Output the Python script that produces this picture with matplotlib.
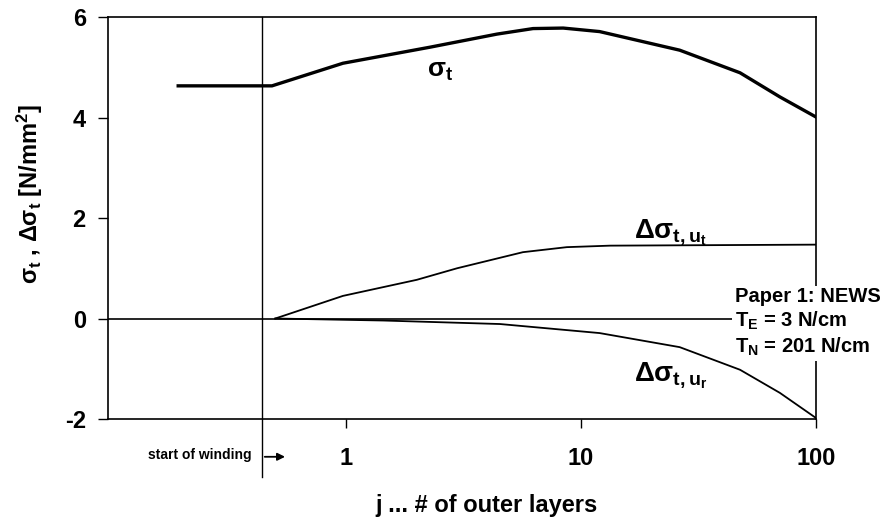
import numpy as np
import matplotlib
matplotlib.use("Agg")
import matplotlib.pyplot as plt
import matplotlib.transforms as mtransforms

plt.rcParams["font.family"] = ["Liberation Sans", "DejaVu Sans"]
plt.rcParams["font.weight"] = "bold"
plt.rcParams["axes.unicode_minus"] = False
plt.rcParams["mathtext.fontset"] = "custom"
plt.rcParams["mathtext.rm"] = "Liberation Sans:bold"
plt.rcParams["mathtext.it"] = "Liberation Sans:bold"
plt.rcParams["mathtext.bf"] = "Liberation Sans:bold"

# sigma_t (tangential stress) vs outer layers j
sig_x = [0.193, 0.484, 0.97, 2.28, 4.39, 6.25, 8.4, 12.0, 26.3, 47.5, 70.2, 100]
sig_y = [4.63, 4.63, 5.08, 5.40, 5.66, 5.77, 5.78, 5.71, 5.34, 4.89, 4.41, 4.01]
# delta sigma_t due to u_t
ut_x = [0.50, 0.97, 2.0, 2.97, 5.66, 8.7, 13.3, 100]
ut_y = [0.0, 0.45, 0.77, 1.0, 1.32, 1.42, 1.45, 1.47]
# delta sigma_t due to u_r
ur_x = [0.50, 1.44, 4.52, 12.0, 26.3, 47.5, 70.2, 100]
ur_y = [0.0, -0.04, -0.11, -0.29, -0.57, -1.02, -1.48, -1.98]

start_x = 0.44
x_ticks = [1, 10, 100]
y_ticks = [-2, 0, 2, 4, 6]

fig = plt.figure(figsize=(8.88, 5.25), dpi=100)
ax = fig.add_axes([0.1216, 0.2019, 0.7973, 0.7657])
ax.set_xscale("log")
ax.set_xlim(0.097, 100)
ax.set_ylim(-2, 6)

ax.axhline(0, color="black", lw=1.2, zorder=2)
ax.plot(sig_x, sig_y, color="black", lw=2.4, zorder=3)
ax.plot(ut_x, ut_y, color="black", lw=1.3, zorder=3)
ax.plot(ur_x, ur_y, color="black", lw=1.3, zorder=3)

# start of winding marker
trans = mtransforms.blended_transform_factory(ax.transData, ax.transAxes)
ax.plot([start_x, start_x], [-0.144, 1.0], color="black", lw=1.0, transform=trans, clip_on=False)
ax.annotate("", xy=(0.254, -0.094), xytext=(0.2175, -0.094), xycoords="axes fraction",
            arrowprops=dict(arrowstyle="-|>", color="black", lw=1.3, mutation_scale=11))
ax.text(0.203, -0.09, "start of winding", transform=ax.transAxes, ha="right", va="center",
        fontsize=10, fontweight="bold")

ax.set_xticks(x_ticks)
ax.set_xticklabels([str(t) for t in x_ticks])
ax.xaxis.set_minor_locator(matplotlib.ticker.NullLocator())
ax.set_yticks(y_ticks)
ax.tick_params(axis="x", direction="out", length=6.5, width=1, pad=14, labelsize=17)
ax.tick_params(axis="y", direction="out", length=7, width=1, pad=9, labelsize=17)
for s in ax.spines.values():
    s.set_linewidth(1.2)

ax.text(0.535, -0.214, "j ... # of outer layers", transform=ax.transAxes, ha="center", va="center",
        fontsize=17, fontweight="bold")
ax.text(-0.11, 0.56, r"$\sigma_t$ , $\Delta\sigma_t$ [N/mm$^2$]", transform=ax.transAxes,
        rotation=90, ha="center", va="center", fontsize=17, fontweight="bold")

# curve labels
ax.text(2.5, 4.92, r"$\sigma_t$", ha="center", va="center", fontsize=19)
ax.text(24, 1.7, r"$\Delta\sigma_{t,u_t}$", ha="center", va="center", fontsize=20)
ax.text(24, -1.15, r"$\Delta\sigma_{t,u_r}$", ha="center", va="center", fontsize=20)

ax.text(0.886, 0.24, "Paper 1: NEWS\nT$_\\mathrm{E}$ = 3 N/cm\nT$_\\mathrm{N}$ = 201 N/cm",
        transform=ax.transAxes, ha="left", va="center", fontsize=14.5, fontweight="bold",
        linespacing=1.2, zorder=5, clip_on=False,
        bbox=dict(boxstyle="square,pad=0.15", fc="white", ec="none"))

fig.savefig("out.png", dpi=100)
